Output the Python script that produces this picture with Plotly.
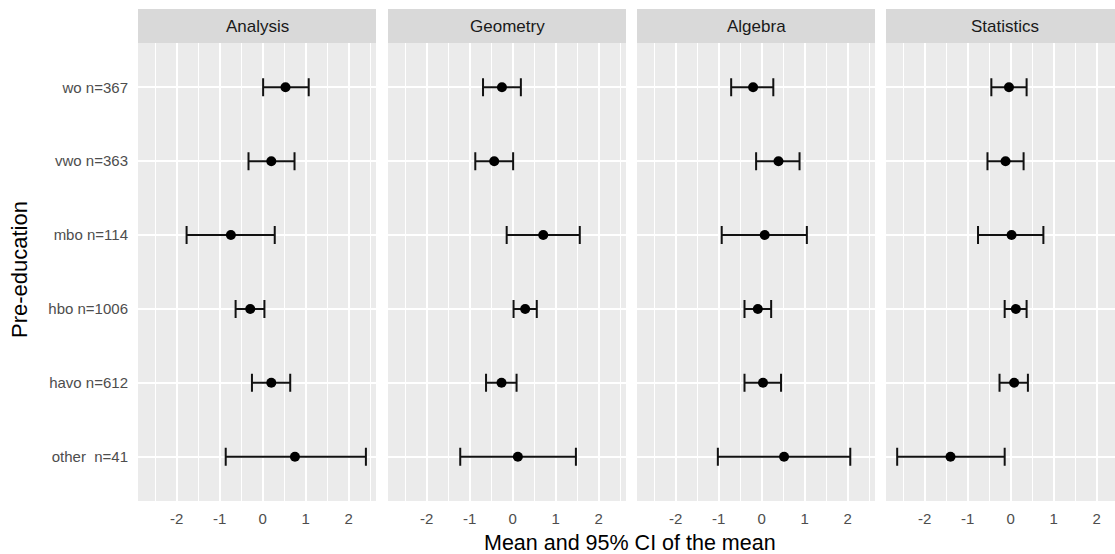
import plotly.graph_objects as go

W, H = 1115, 554

subjects = ["Analysis", "Geometry", "Algebra", "Statistics"]
groups = ["other  n=41", "havo n=612", "hbo n=1006", "mbo n=114", "vwo n=363", "wo n=367"]

# order of values follows `groups` (bottom to top)
means = {
    "Analysis":   [0.75, 0.20, -0.29, -0.74, 0.20, 0.53],
    "Geometry":   [0.12, -0.26, 0.29, 0.71, -0.43, -0.25],
    "Algebra":    [0.52, 0.03, -0.09, 0.07, 0.39, -0.20],
    "Statistics": [-1.40, 0.08, 0.12, 0.02, -0.12, -0.04],
}
lower = {
    "Analysis":   [-0.86, -0.25, -0.63, -1.77, -0.33, 0.01],
    "Geometry":   [-1.22, -0.62, 0.02, -0.14, -0.87, -0.69],
    "Algebra":    [-1.02, -0.40, -0.40, -0.93, -0.13, -0.71],
    "Statistics": [-2.64, -0.26, -0.14, -0.76, -0.54, -0.45],
}
upper = {
    "Analysis":   [2.40, 0.64, 0.04, 0.28, 0.74, 1.07],
    "Geometry":   [1.47, 0.09, 0.56, 1.56, 0.01, 0.19],
    "Algebra":    [2.06, 0.45, 0.22, 1.05, 0.88, 0.27],
    "Statistics": [-0.14, 0.40, 0.37, 0.76, 0.30, 0.37],
}

x_title = "Mean and 95% CI of the mean"
y_title = "Pre-education"
x_ticks = [-2, -1, 0, 1, 2]
x_tick_labels = ["-2", "-1", "0", "1", "2"]
x_minor = [-2.5, -1.5, -0.5, 0.5, 1.5, 2.5]

# layout in pixels
panel_left = [138, 388, 637, 886]
panel_w = 238
panel_top, panel_bot = 43, 501
strip_top = 9
xmin, xmax = -2.9, 2.635
ppu = panel_w / (xmax - xmin)

FONT = "Liberation Sans, Arial, sans-serif"
fig = go.Figure()
layout = dict(
    width=W, height=H, margin=dict(l=0, r=0, t=0, b=0),
    paper_bgcolor="white", plot_bgcolor="#EBEBEB", showlegend=False,
    font=dict(family=FONT),
)
shapes, annotations = [], []
ydom = [(H - panel_bot) / H, (H - panel_top) / H]

for i, s in enumerate(subjects):
    k = "" if i == 0 else str(i + 1)
    L = panel_left[i]
    R = min(L + panel_w, W)
    rmax = xmin + (R - L) / ppu
    d0, d1 = L / W, R / W
    layout["xaxis" + k] = dict(
        domain=[d0, d1], range=[xmin, rmax], anchor="y" + k,
        tickmode="array", tickvals=x_ticks, ticktext=x_tick_labels,
        showgrid=True, gridcolor="white", gridwidth=1.8,
        minor=dict(tickmode="array", tickvals=x_minor, showgrid=True,
                   gridcolor="white", gridwidth=0.9),
        zeroline=False, showline=False,
        ticks="outside", ticklen=4, tickcolor="rgba(0,0,0,0)",
        tickfont=dict(size=15, color="#4D4D4D", family=FONT),
        fixedrange=True,
    )
    layout["yaxis" + k] = dict(
        domain=ydom, anchor="x" + k, type="category",
        categoryorder="array", categoryarray=groups, range=[-0.6, 5.6],
        showgrid=True, gridcolor="white", gridwidth=1.8, zeroline=False,
        showticklabels=(i == 0), ticks="outside", ticklen=6, tickcolor="rgba(0,0,0,0)",
        tickfont=dict(size=15, color="#4D4D4D", family=FONT),
        fixedrange=True,
    )
    # zero reference line
    shapes.append(dict(type="line", xref="x" + k, yref="paper", x0=0, x1=0,
                       y0=ydom[0], y1=ydom[1], line=dict(color="#B0B0B0", width=1.2),
                       layer="below"))
    # strip
    shapes.append(dict(type="rect", xref="paper", yref="paper", x0=d0, x1=d1,
                       y0=ydom[1], y1=(H - strip_top) / H, fillcolor="#D9D9D9",
                       line=dict(width=0)))
    annotations.append(dict(text=s, xref="paper", yref="paper",
                            x=(L + panel_w / 2) / W, y=(H - (strip_top + panel_top) / 2) / H,
                            showarrow=False, xanchor="center", yanchor="middle",
                            font=dict(size=17, color="#1A1A1A", family=FONT)))
    m = means[s]
    fig.add_trace(go.Scatter(
        x=m, y=groups, xaxis="x" + k, yaxis="y" + k, mode="markers",
        marker=dict(color="black", size=10),
        error_x=dict(type="data", symmetric=False,
                     array=[u - v for u, v in zip(upper[s], m)],
                     arrayminus=[v - l for v, l in zip(m, lower[s])],
                     color="#111111", thickness=2, width=9),
        hoverinfo="skip",
    ))

annotations.append(dict(text=x_title, xref="paper", yref="paper",
                        x=630 / W, y=(H - 543) / H, showarrow=False,
                        xanchor="center", yanchor="middle",
                        font=dict(size=21.5, color="black", family=FONT)))
annotations.append(dict(text=y_title, xref="paper", yref="paper",
                        x=19 / W, y=(H - 270) / H, showarrow=False, textangle=-90,
                        xanchor="center", yanchor="middle",
                        font=dict(size=22, color="black", family=FONT)))

layout["shapes"] = shapes
layout["annotations"] = annotations
fig.update_layout(**layout)
fig.write_html("out.html")
